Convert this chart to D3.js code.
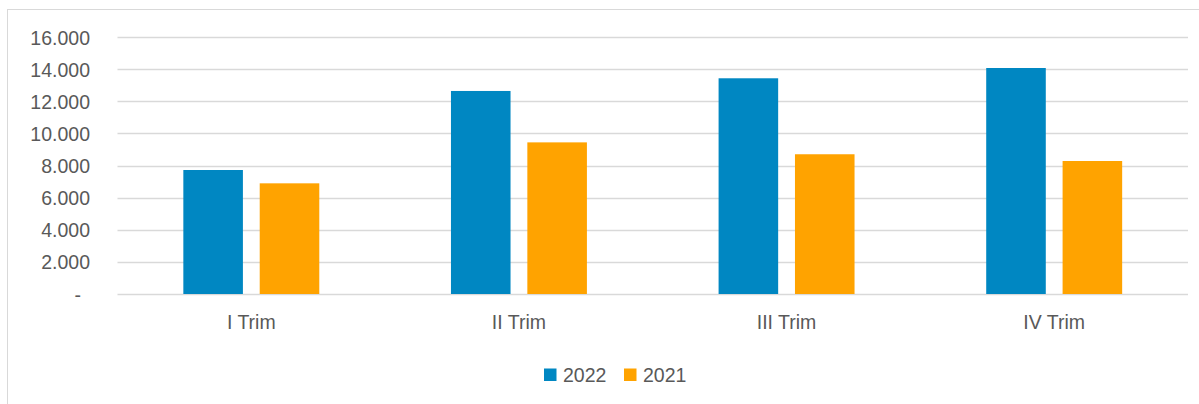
<!DOCTYPE html>
<html>
<head>
<meta charset="utf-8">
<script src="https://cdn.jsdelivr.net/npm/d3@7"></script>
<style>
  html, body { margin: 0; padding: 0; background: #fff; }
  svg { display: block; }
  text { font-family: "Liberation Sans", Arial, sans-serif; fill: #595959; }
</style>
</head>
<body>
<svg id="chart" width="1199" height="404"></svg>
<script>
const categories = ["I Trim", "II Trim", "III Trim", "IV Trim"];
const seriesNames = ["2022", "2021"];
const values2022 = [7720, 12640, 13430, 14070];
const values2021 = [6890, 9440, 8700, 8280];
const yTicks = [0, 2000, 4000, 6000, 8000, 10000, 12000, 14000, 16000];
const colors = ["#0087C2", "#FFA300"];

const seriesValues = [values2022, values2021];
const data = categories.map((c, i) => ({
  cat: c,
  vals: seriesNames.map((s, j) => ({ key: s, value: seriesValues[j][i], color: colors[j] }))
}));

const svg = d3.select("#chart");
const W = 1199, H = 404;
const plot = { left: 117.5, right: 1188, top: 37, bottom: 294 };

// chart border
svg.append("rect")
  .attr("x", 7.5).attr("y", 9.5)
  .attr("width", W + 10).attr("height", H + 10)
  .attr("fill", "none").attr("stroke", "#d9d9d9").attr("stroke-width", 1);

const x0 = d3.scaleBand().domain(categories).range([plot.left, plot.right]).paddingInner(0).paddingOuter(0);
const bw = x0.bandwidth();
const x1 = d3.scaleBand().domain(seriesNames).range([bw * 0.246, bw * 0.754]).paddingInner(0.22).paddingOuter(0);
const y = d3.scaleLinear().domain([0, 16000]).range([plot.bottom, plot.top]);

const locale = d3.formatLocale({ decimal: ",", thousands: ".", grouping: [3], currency: ["", "€"] });
const fmt = locale.format(",d");

// gridlines
svg.append("g").selectAll("line").data(yTicks).join("line")
  .attr("x1", plot.left).attr("x2", plot.right)
  .attr("y1", d => Math.round(y(d)) + 0.5).attr("y2", d => Math.round(y(d)) + 0.5)
  .attr("stroke", "#d9d9d9").attr("stroke-width", 1.5);

// y axis labels
const yAxis = d3.axisLeft(y).tickValues(yTicks).tickSize(0).tickPadding(0)
  .tickFormat(d => d === 0 ? "-" : fmt(d));
const gy = svg.append("g").attr("transform", "translate(90,0)").call(yAxis);
gy.select(".domain").remove();
gy.selectAll("text")
  .attr("font-size", "19.5px")
  .attr("font-family", "Liberation Sans, Arial, sans-serif")
  .attr("fill", "#595959")
  .attr("dy", "0.36em")
  .attr("dx", d => d === 0 ? "-9px" : "0");

// bars
const groups = svg.append("g").selectAll("g").data(data).join("g")
  .attr("transform", d => `translate(${x0(d.cat)},0)`);
groups.selectAll("rect").data(d => d.vals).join("rect")
  .attr("x", d => x1(d.key))
  .attr("width", x1.bandwidth())
  .attr("y", d => y(d.value))
  .attr("height", d => y(0) - y(d.value))
  .attr("fill", d => d.color);

// x axis labels
const xAxis = d3.axisBottom(x0).tickSize(0).tickPadding(0);
const gx = svg.append("g").attr("transform", `translate(0,${plot.bottom})`).call(xAxis);
gx.select(".domain").remove();
gx.selectAll("text")
  .attr("font-size", "19.5px")
  .attr("font-family", "Liberation Sans, Arial, sans-serif")
  .attr("fill", "#595959")
  .attr("dy", "35px");

// legend
const legendItems = [
  { key: seriesNames[0], color: colors[0], x: 544 },
  { key: seriesNames[1], color: colors[1], x: 624 }
];
const lg = svg.append("g").selectAll("g").data(legendItems).join("g")
  .attr("transform", d => `translate(${d.x},368.5)`);
lg.append("rect").attr("width", 12.5).attr("height", 12.5).attr("fill", d => d.color);
lg.append("text").attr("x", 19).attr("y", 13.8)
  .attr("font-size", "19.5px").text(d => d.key);
</script>
</body>
</html>
